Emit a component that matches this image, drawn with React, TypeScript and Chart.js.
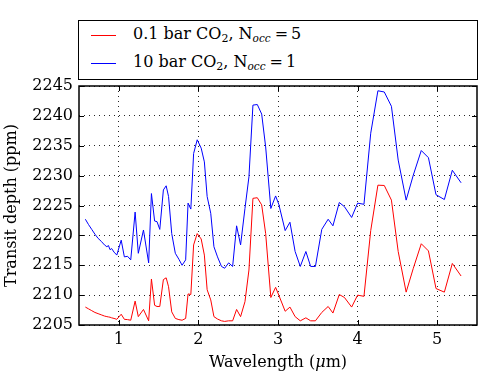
import React, { useEffect, useRef } from "react";
import { Chart, registerables } from "chart.js";

Chart.register(...registerables);

// Wavelength grid (micron)
const wavelength = [
  0.58, 0.62, 0.66, 0.70, 0.74, 0.78, 0.82, 0.85, 0.87, 0.89, 0.91, 0.94, 0.975,
  1.03, 1.07, 1.11, 1.15, 1.205, 1.245, 1.31, 1.375, 1.41, 1.45, 1.48, 1.515,
  1.56, 1.595, 1.625, 1.665, 1.71, 1.755, 1.795, 1.84, 1.87, 1.905, 1.94, 1.985,
  2.035, 2.075, 2.11, 2.155, 2.195, 2.24, 2.29, 2.33, 2.38, 2.43, 2.48, 2.53,
  2.585, 2.635, 2.685, 2.74, 2.795, 2.845, 2.91, 2.97, 3.01, 3.09, 3.15, 3.215,
  3.28, 3.35, 3.41, 3.47, 3.55, 3.63, 3.69, 3.77, 3.835, 3.925, 4.0, 4.08,
  4.165, 4.255, 4.335, 4.425, 4.51, 4.61, 4.70, 4.80, 4.89, 4.985, 5.09, 5.19, 5.30,
];

// 0.1 bar CO2, N_occ = 5 (red)
const depthLowCO2 = [
  2208.0, 2207.7, 2207.4, 2207.1, 2206.9, 2206.7, 2206.5, 2206.4, 2206.35, 2206.3, 2206.2, 2206.1, 2205.95,
  2206.8, 2205.95, 2205.9, 2205.8, 2209.0, 2206.4, 2207.6, 2205.7, 2212.7, 2208.3, 2208.1, 2208.1,
  2212.6, 2212.9, 2211.4, 2207.2, 2206.1, 2205.9, 2205.8, 2206.1, 2210.2, 2210.1, 2218.4, 2220.3,
  2219.4, 2216.7, 2210.9, 2209.2, 2206.4, 2206.0, 2205.7, 2205.6, 2205.7, 2205.7, 2207.6, 2206.4,
  2208.9, 2214.2, 2226.2, 2226.3, 2225.1, 2220.3, 2209.6, 2211.3, 2210.0, 2207.3, 2208.0, 2206.4,
  2205.7, 2206.2, 2205.7, 2205.7, 2207.1, 2208.1, 2207.0, 2210.1, 2209.6, 2208.0, 2210.0, 2209.8,
  2220.8, 2228.4, 2228.35, 2225.9, 2217.3, 2210.5, 2214.5, 2218.6, 2217.4, 2211.1, 2210.5, 2215.3, 2213.2,
];

// 10 bar CO2, N_occ = 1 (blue)
const depthHighCO2 = [
  2222.7, 2221.8, 2221.0, 2220.2, 2219.5, 2219.0, 2218.4, 2218.1, 2218.3, 2217.6, 2217.8, 2217.2, 2216.7,
  2219.2, 2216.4, 2216.5, 2215.9, 2223.9, 2217.0, 2220.9, 2215.4, 2227.0, 2222.4, 2222.3, 2221.0,
  2227.6, 2228.3, 2226.5, 2220.3, 2217.0, 2216.0, 2215.0, 2215.9, 2225.4, 2224.4, 2233.7, 2236.0,
  2234.6, 2232.3, 2226.5, 2223.7, 2218.1, 2216.4, 2214.8, 2214.5, 2215.4, 2214.8, 2221.6, 2218.4,
  2224.5, 2229.8, 2241.8, 2241.9, 2240.3, 2234.8, 2224.5, 2226.6, 2225.2, 2220.8, 2222.2, 2217.3,
  2214.8, 2217.3, 2214.8, 2214.8, 2221.0, 2222.7, 2221.6, 2225.5, 2224.8, 2223.0, 2225.4, 2225.2,
  2237.1, 2244.2, 2244.0, 2241.6, 2232.6, 2225.9, 2230.1, 2234.2, 2233.0, 2226.8, 2226.0, 2230.9, 2228.8,
];

const xTicks = [1, 2, 3, 4, 5];
const yTicks = [2205, 2210, 2215, 2220, 2225, 2230, 2235, 2240, 2245];

const FONT = "'DejaVu Serif', serif";

const framePlugin = {
  id: "mplFrame",
  afterDraw(chart: any) {
    const { ctx, chartArea: a, scales } = chart;
    ctx.save();
    ctx.strokeStyle = "#000";
    ctx.lineWidth = 1;
    ctx.setLineDash([]);
    const tl = 5;
    ctx.beginPath();
    for (const v of xTicks) {
      const px = Math.round(scales.x.getPixelForValue(v)) + 0.5;
      ctx.moveTo(px, a.bottom);
      ctx.lineTo(px, a.bottom - tl);
      ctx.moveTo(px, a.top);
      ctx.lineTo(px, a.top + tl);
    }
    for (const v of yTicks) {
      const py = Math.round(scales.y.getPixelForValue(v)) + 0.5;
      ctx.moveTo(a.left, py);
      ctx.lineTo(a.left + tl, py);
      ctx.moveTo(a.right, py);
      ctx.lineTo(a.right - tl, py);
    }
    ctx.stroke();
    ctx.lineWidth = 1.5;
    ctx.strokeRect(a.left, a.top, a.right - a.left, a.bottom - a.top);
    ctx.restore();
  },
};

function ChartCanvas() {
  const ref = useRef<HTMLCanvasElement | null>(null);
  useEffect(() => {
    if (!ref.current) return;
    const toPts = (ys: number[]) => wavelength.map((x, i) => ({ x, y: ys[i] }));
    const chart = new Chart(ref.current, {
      type: "line",
      data: {
        datasets: [
          {
            label: "0.1 bar CO2, Nocc=5",
            data: toPts(depthLowCO2),
            borderColor: "#ff0000",
            borderWidth: 1,
            pointRadius: 0,
            tension: 0,
            fill: false,
          },
          {
            label: "10 bar CO2, Nocc=1",
            data: toPts(depthHighCO2),
            borderColor: "#0000ff",
            borderWidth: 1,
            pointRadius: 0,
            tension: 0,
            fill: false,
          },
        ],
      },
      options: {
        responsive: false,
        animation: false,
        devicePixelRatio: 1,
        layout: { padding: { top: 86, right: 21, left: 0, bottom: 0 } },
        plugins: {
          legend: { display: false },
          tooltip: { enabled: false },
        },
        scales: {
          x: {
            type: "linear",
            min: 0.5,
            max: 5.5,
            afterBuildTicks: (axis: any) => {
              axis.ticks = xTicks.map((v) => ({ value: v }));
            },
            afterFit: (axis: any) => {
              axis.height = 49;
            },
            grid: { color: "rgba(0,0,0,0.85)", lineWidth: 1, drawTicks: false },
            border: { display: false, dash: [1, 4] },
            ticks: {
              color: "#000",
              font: { family: FONT, size: 16 },
              padding: 5,
              maxRotation: 0,
              callback: (v: any) => String(v),
            },
            title: { display: false },
          },
          y: {
            type: "linear",
            min: 2205,
            max: 2245,
            afterBuildTicks: (axis: any) => {
              axis.ticks = yTicks.map((v) => ({ value: v }));
            },
            afterFit: (axis: any) => {
              axis.width = 79;
            },
            grid: { color: "rgba(0,0,0,0.85)", lineWidth: 1, drawTicks: false },
            border: { display: false, dash: [1, 4] },
            ticks: {
              color: "#000",
              font: { family: FONT, size: 16 },
              padding: 6,
              callback: (v: any) => String(v),
            },
            title: {
              display: true,
              text: "Transit depth (ppm)",
              color: "#000",
              font: { family: FONT, size: 16 },
              padding: { top: 2, bottom: 0 },
            },
          },
        },
      },
      plugins: [framePlugin],
    });
    return () => chart.destroy();
  }, []);
  return <canvas ref={ref} width={498} height={374} style={{ display: "block" }} />;
}

const legendText: React.CSSProperties = {
  position: "absolute",
  left: 54,
  fontFamily: FONT,
  fontSize: 16,
  lineHeight: "16px",
  whiteSpace: "nowrap",
  color: "#000",
};

const subStyle: React.CSSProperties = {
  fontSize: 11,
  verticalAlign: "-3px",
  lineHeight: 0,
};

function LegendEntry({ top, color, pressure, nocc }: { top: number; color: string; pressure: string; nocc: string }) {
  return (
    <>
      <div
        style={{
          position: "absolute",
          left: 12,
          top: top + 14,
          width: 25,
          height: 0,
          borderTop: `1px solid ${color}`,
        }}
      />
      <div style={{ ...legendText, top: top + 5 }}>
        {pressure} bar CO<span style={subStyle}>2</span>, N
        <span style={{ ...subStyle, fontSize: 10.5, fontStyle: "italic" }}>occ</span>
        <span style={{ marginLeft: 4, marginRight: 3 }}>=</span>
        {nocc}
      </div>
    </>
  );
}

export default function App() {
  return (
    <div style={{ position: "fixed", left: 0, top: 0, width: 498, height: 374, background: "#fff" }}>
      <ChartCanvas />
      <div
        style={{
          position: "absolute",
          left: 79,
          top: 354,
          width: 398,
          textAlign: "center",
          fontFamily: FONT,
          fontSize: 16,
          lineHeight: "16px",
          whiteSpace: "nowrap",
          color: "#000",
        }}
      >
        Wavelength (<span style={{ fontStyle: "italic" }}>{"\u03bc"}</span>m)
      </div>
      <div
        style={{
          position: "absolute",
          left: 78,
          top: 20,
          width: 400,
          height: 60,
          boxSizing: "border-box",
          border: "1.5px solid #000",
          background: "#fff",
        }}
      >
        <LegendEntry top={0} color="#ff0000" pressure="0.1" nocc="5" />
        <LegendEntry top={28} color="#0000ff" pressure="10" nocc="1" />
      </div>
    </div>
  );
}
